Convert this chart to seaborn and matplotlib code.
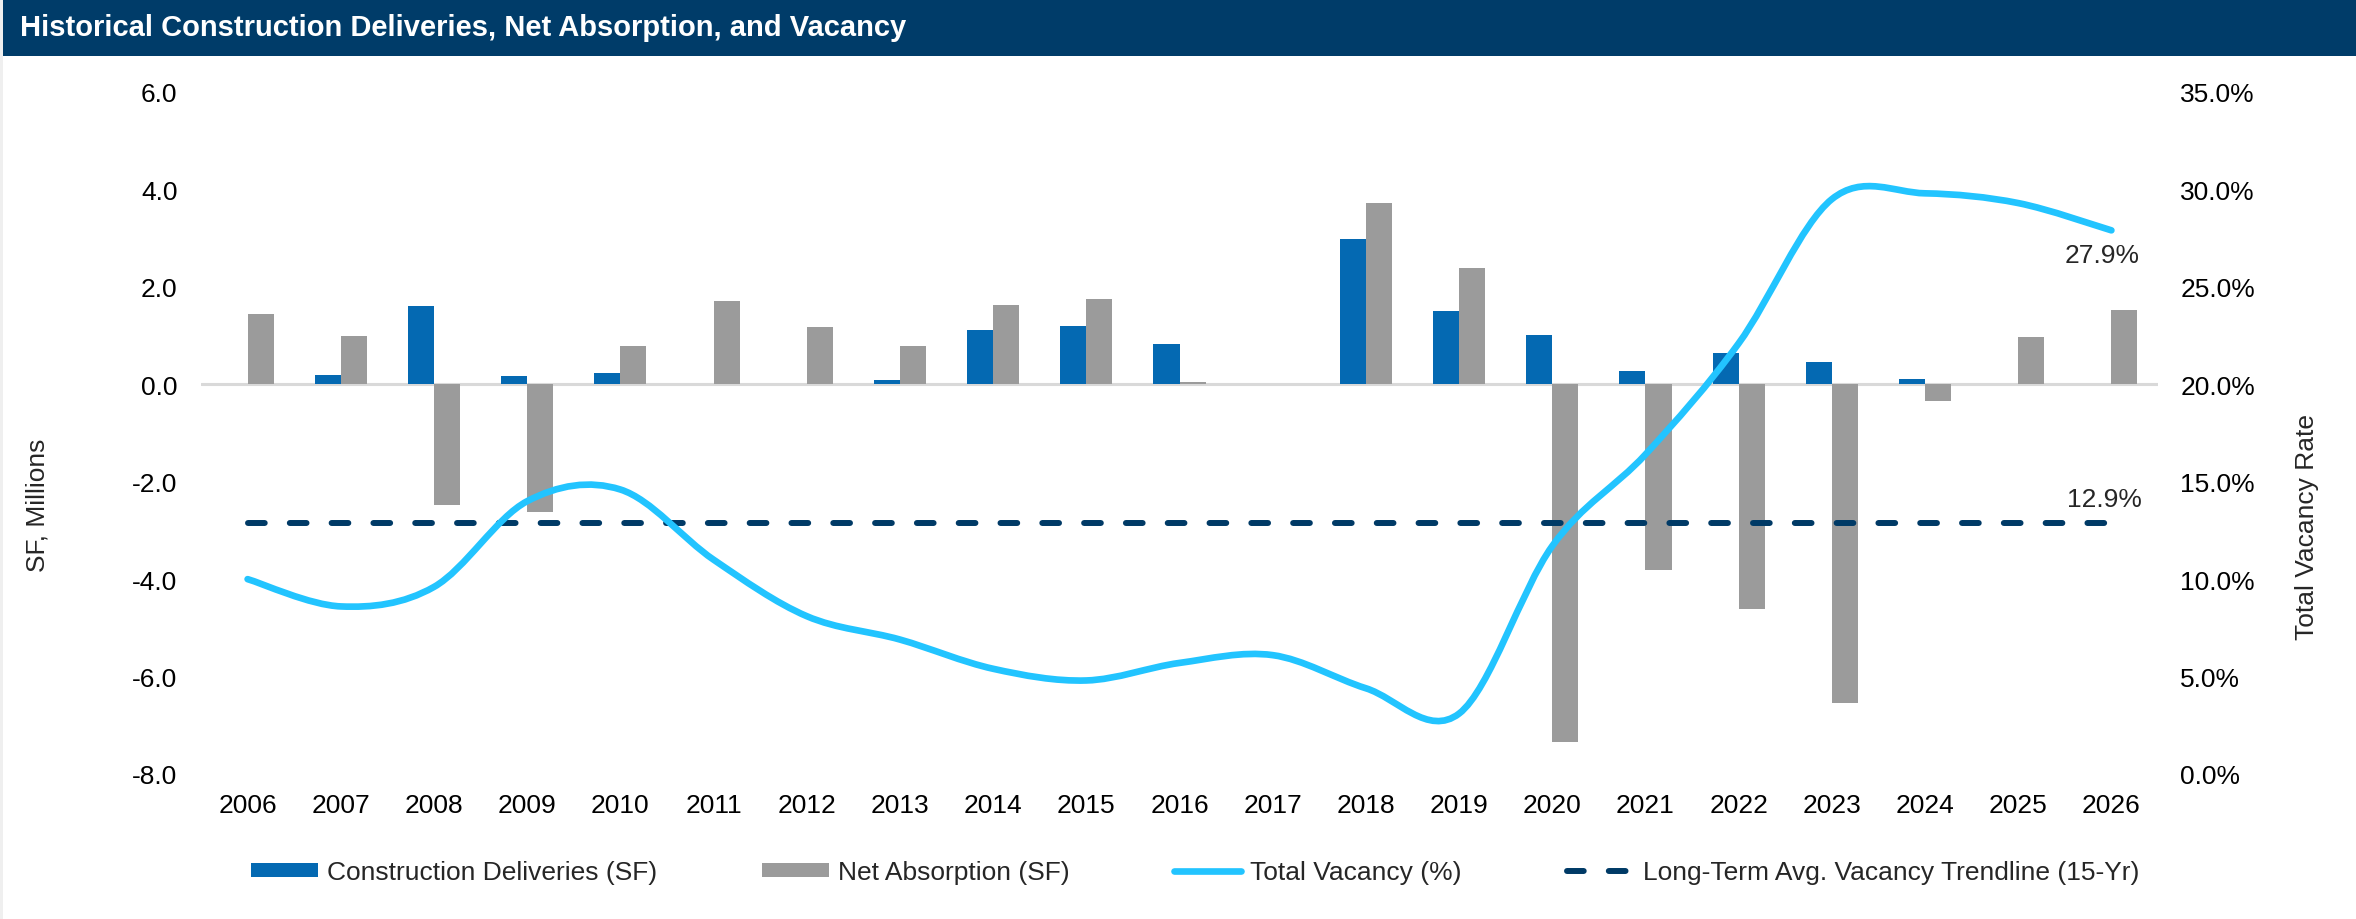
import matplotlib
matplotlib.use("Agg")
import matplotlib.pyplot as plt
import numpy as np
import pandas as pd
import seaborn as sns
from matplotlib.lines import Line2D
from matplotlib.patches import Patch, PathPatch, Rectangle
from matplotlib.path import Path
from matplotlib.ticker import FuncFormatter, MultipleLocator

# --- Data ---
YEARS = ["2006", "2007", "2008", "2009", "2010", "2011", "2012", "2013", "2014", "2015", "2016",
         "2017", "2018", "2019", "2020", "2021", "2022", "2023", "2024", "2025", "2026"]
DELIVERIES = [0.0, 0.19, 1.61, 0.17, 0.24, 0.0, 0.0, 0.08, 1.12, 1.20, 0.82,
              0.0, 2.99, 1.51, 1.02, 0.27, 0.65, 0.45, 0.10, 0.0, 0.0]
ABSORPTION = [1.45, 1.00, -2.48, -2.63, 0.78, 1.70, 1.18, 0.79, 1.63, 1.75, 0.05,
              0.0, 3.72, 2.38, -7.35, -3.81, -4.62, -6.54, -0.34, 0.97, 1.53]
VACANCY = [10.0, 8.6, 9.6, 14.0, 14.6, 11.0, 8.1, 6.9, 5.4, 4.8, 5.7,
           6.1, 4.4, 3.1, 11.7, 16.4, 22.1, 29.5, 29.8, 29.3, 27.9]
LONG_TERM_AVG = 12.9

SERIES = ["Construction Deliveries (SF)", "Net Absorption (SF)"]
VACANCY_LABEL = "Total Vacancy (%)"
TREND_LABEL = "Long-Term Avg. Vacancy Trendline (15-Yr)"
TITLE = "Historical Construction Deliveries, Net Absorption, and Vacancy"

BLUE = "#0469B2"
GRAY = "#9B9B9B"
CYAN = "#22C4FF"
NAVY = "#003A66"
HEADER = "#003C69"

W, H, DPI = 2356, 920, 100
FS = 19

sns.set_theme(style="white")
plt.rcParams["font.family"] = ["Liberation Sans", "DejaVu Sans"]
plt.rcParams["font.size"] = FS

fig = plt.figure(figsize=(W / DPI, H / DPI), dpi=DPI)
fig.patch.set_facecolor("white")

# header bar
fig.patches.append(Rectangle((3 / W, 1 - 57 / H), 1 - 3 / W, 57 / H, transform=fig.transFigure,
                             facecolor=HEADER, edgecolor="none", zorder=0))
fig.patches.append(Rectangle((0, 0), 3 / W, 1, transform=fig.transFigure,
                             facecolor="#EFEFEF", edgecolor="none", zorder=0))
fig.text(20 / W, 1 - 28.5 / H, TITLE, color="white", fontsize=21, fontweight="bold",
         ha="left", va="center")

ax = fig.add_axes([201 / W, 1 - 775 / H, (2158 - 201) / W, (775 - 93) / H])

df = pd.DataFrame({
    "year": YEARS * 2,
    "series": [SERIES[0]] * len(YEARS) + [SERIES[1]] * len(YEARS),
    "value": DELIVERIES + ABSORPTION,
})

sns.barplot(data=df, x="year", y="value", hue="series", order=YEARS, hue_order=SERIES,
            palette=[BLUE, GRAY], saturation=1, width=0.56, gap=0, dodge=True,
            legend=False, ax=ax, edgecolor="none", linewidth=0)

ax.axhline(0, color="#D9D9D9", lw=2.2, zorder=0.5)
ax.set_xlim(-0.5, len(YEARS) - 0.5)
ax.set_ylim(-8, 6)
ax.yaxis.set_major_locator(MultipleLocator(2))
ax.yaxis.set_major_formatter(FuncFormatter(lambda v, _: f"{v:.1f}"))
ax.set_xlabel("")
ax.set_ylabel("")
ax.tick_params(axis="both", length=0, labelsize=FS, colors="black")
ax.tick_params(axis="y", pad=17)
ax.tick_params(axis="x", pad=14)
for s in ax.spines.values():
    s.set_visible(False)
ax.grid(False)

# --- secondary axis: vacancy ---
ax2 = ax.twinx()
ax2.set_ylim(0, 35)
ax2.yaxis.set_major_locator(MultipleLocator(5))
ax2.yaxis.set_major_formatter(FuncFormatter(lambda v, _: f"{v:.1f}%"))
ax2.tick_params(axis="y", length=0, labelsize=FS, pad=16, colors="black")
for s in ax2.spines.values():
    s.set_visible(False)
ax2.grid(False)

# smoothed vacancy line (Bezier segments through the data points, Excel style)
xs = np.arange(len(VACANCY), dtype=float)
ys = np.array(VACANCY, dtype=float)
verts = [(xs[0], ys[0])]
codes = [Path.MOVETO]
n = len(xs)
for i in range(n - 1):
    ip = max(i - 1, 0)
    inn = min(i + 2, n - 1)
    c1 = (xs[i] + (xs[i + 1] - xs[ip]) / 6, ys[i] + (ys[i + 1] - ys[ip]) / 6)
    c2 = (xs[i + 1] - (xs[inn] - xs[i]) / 6, ys[i + 1] - (ys[inn] - ys[i]) / 6)
    verts += [c1, c2, (xs[i + 1], ys[i + 1])]
    codes += [Path.CURVE4] * 3
curve = PathPatch(Path(verts, codes), facecolor="none", edgecolor=CYAN, lw=4.8,
                  capstyle="round", joinstyle="round", zorder=4)
ax2.add_patch(curve)

# long-term average trendline
ax2.plot([xs[0], xs[-1]], [LONG_TERM_AVG, LONG_TERM_AVG], color=NAVY, lw=4.3,
         linestyle=(0, (2.8, 4.2)), dash_capstyle="round", zorder=3)

ax2.annotate(f"{VACANCY[-1]:.1f}%", xy=(xs[-1], VACANCY[-1]), xytext=(-7, -18),
             textcoords="offset points", ha="center", va="center", fontsize=FS)
ax2.annotate(f"{LONG_TERM_AVG:.1f}%", xy=(xs[-1], LONG_TERM_AVG), xytext=(-5, 17),
             textcoords="offset points", ha="center", va="center", fontsize=FS)

# axis titles
fig.text(38 / W, 1 - 505 / H, "SF, Millions", rotation=90, ha="center", va="center", fontsize=FS)
fig.text(2307 / W, 1 - 527 / H, "Total Vacancy Rate", rotation=90, ha="center", va="center",
         fontsize=FS)

# legend
handles = [
    Patch(facecolor=BLUE, edgecolor="none", label=SERIES[0]),
    Patch(facecolor=GRAY, edgecolor="none", label=SERIES[1]),
    Line2D([], [], color=CYAN, lw=4.8, solid_capstyle="round", label=VACANCY_LABEL),
    Line2D([], [], color=NAVY, lw=4.3, linestyle=(0, (2.8, 4.2)), dash_capstyle="round",
           label=TREND_LABEL),
]
fig.legend(handles=handles, loc="center", bbox_to_anchor=(1195 / W, 1 - 873 / H),
           bbox_transform=fig.transFigure, ncol=4, frameon=False, fontsize=FS,
           handlelength=2.54, handleheight=0.45, handletextpad=0.34, columnspacing=3.98,
           borderpad=0, borderaxespad=0)

fig.savefig("out.png", dpi=DPI, facecolor="white")
